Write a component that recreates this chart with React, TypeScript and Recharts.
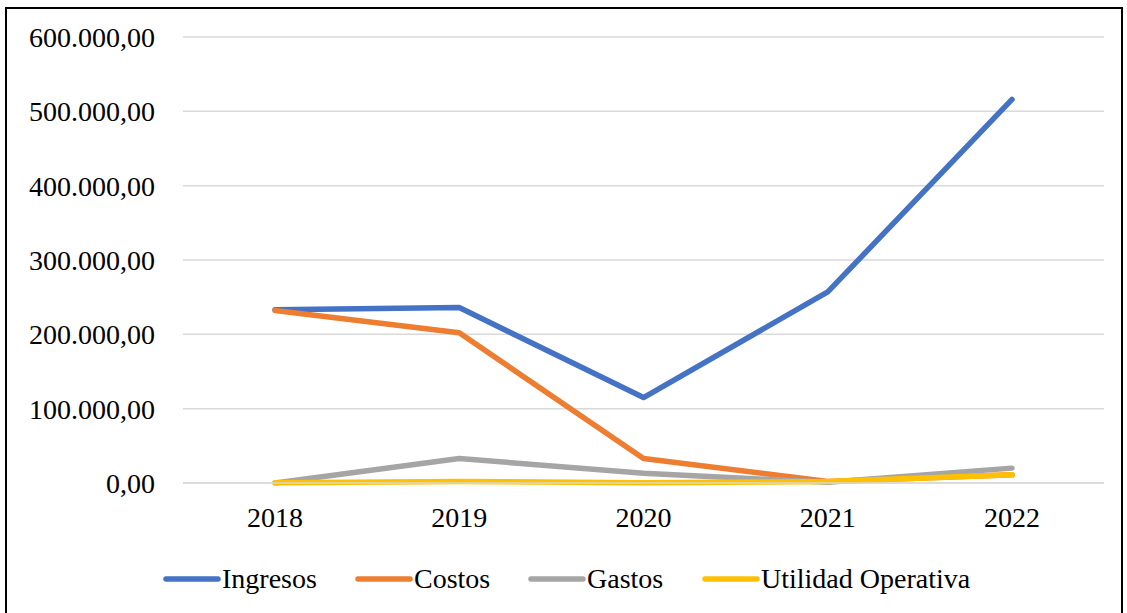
import { LineChart, Line, XAxis, YAxis, CartesianGrid, Legend } from 'recharts';

const years = ['2018', '2019', '2020', '2021', '2022'];
const ingresos = [233000, 236000, 115000, 257000, 516000];
const costos = [232000, 202000, 33000, 2000, 11000];
const gastos = [0, 33000, 13000, 1000, 20000];
const utilidad = [500, 2000, 500, 2000, 11000];
const yTicks = [0, 100000, 200000, 300000, 400000, 500000, 600000];

const SERIES = [
  { key: 'ingresos', name: 'Ingresos', color: '#4472C4' },
  { key: 'costos', name: 'Costos', color: '#ED7D31' },
  { key: 'gastos', name: 'Gastos', color: '#A5A5A5' },
  { key: 'utilidad', name: 'Utilidad Operativa', color: '#FFC000' },
];

const data = years.map((year, i) => ({
  year,
  ingresos: ingresos[i],
  costos: costos[i],
  gastos: gastos[i],
  utilidad: utilidad[i],
}));

const FONT = '"Liberation Serif", "Times New Roman", serif';
const LEGEND_ITEM_WIDTHS = [192, 173, 174, 290];

function fmt(v: number) {
  const [int, dec] = v.toFixed(2).split('.');
  return int.replace(/\B(?=(\d{3})+(?!\d))/g, '.') + ',' + dec;
}

function LegendContent() {
  return (
    <div style={{ display: 'flex', alignItems: 'center', fontFamily: FONT, fontSize: 28, color: '#000', paddingLeft: 162 }}>
      {SERIES.map((s, i) => (
        <div key={s.key} style={{ display: 'flex', alignItems: 'center', width: LEGEND_ITEM_WIDTHS[i], whiteSpace: 'nowrap' }}>
          <svg width={60} height={10} style={{ marginRight: 0 }}>
            <line x1={4} y1={5} x2={56} y2={5} stroke={s.color} strokeWidth={5.5} strokeLinecap="round" />
          </svg>
          <span>{s.name}</span>
        </div>
      ))}
    </div>
  );
}

export default function App() {
  return (
    <div style={{ position: 'absolute', left: 0, top: 0, width: 1127, height: 613, background: '#fff', overflow: 'hidden' }}>
      <div style={{ position: 'absolute', left: 5, top: 7, width: 1118, height: 620, border: '2px solid #000', boxSizing: 'border-box' }} />
      <div style={{ position: 'absolute', left: 0, top: 0 }}>
        <LineChart width={1127} height={613} data={data} margin={{ top: 37, right: 23, left: 0, bottom: 48 }}>
          <CartesianGrid vertical={false} stroke="#D9D9D9" strokeWidth={1.5} />
          <XAxis
            dataKey="year"
            padding={{ left: 92, right: 92 }}
            axisLine={{ stroke: '#D9D9D9', strokeWidth: 1.5 }}
            tickLine={false}
            tickSize={0}
            tickMargin={24}
            height={50}
            tick={{ fill: '#000', fontFamily: FONT, fontSize: 28 }}
          />
          <YAxis
            domain={[0, 600000]}
            ticks={yTicks}
            tickFormatter={fmt}
            axisLine={false}
            tickLine={false}
            tickSize={0}
            tickMargin={28}
            width={183}
            tick={{ fill: '#000', fontFamily: FONT, fontSize: 28 }}
          />
          <Legend verticalAlign="bottom" content={<LegendContent />} wrapperStyle={{ bottom: 18 }} />
          {SERIES.map((s) => (
            <Line
              key={s.key}
              type="linear"
              dataKey={s.key}
              name={s.name}
              stroke={s.color}
              strokeWidth={5.5}
              strokeLinecap="round"
              strokeLinejoin="round"
              dot={false}
              activeDot={false}
              isAnimationActive={false}
            />
          ))}
        </LineChart>
      </div>
    </div>
  );
}
